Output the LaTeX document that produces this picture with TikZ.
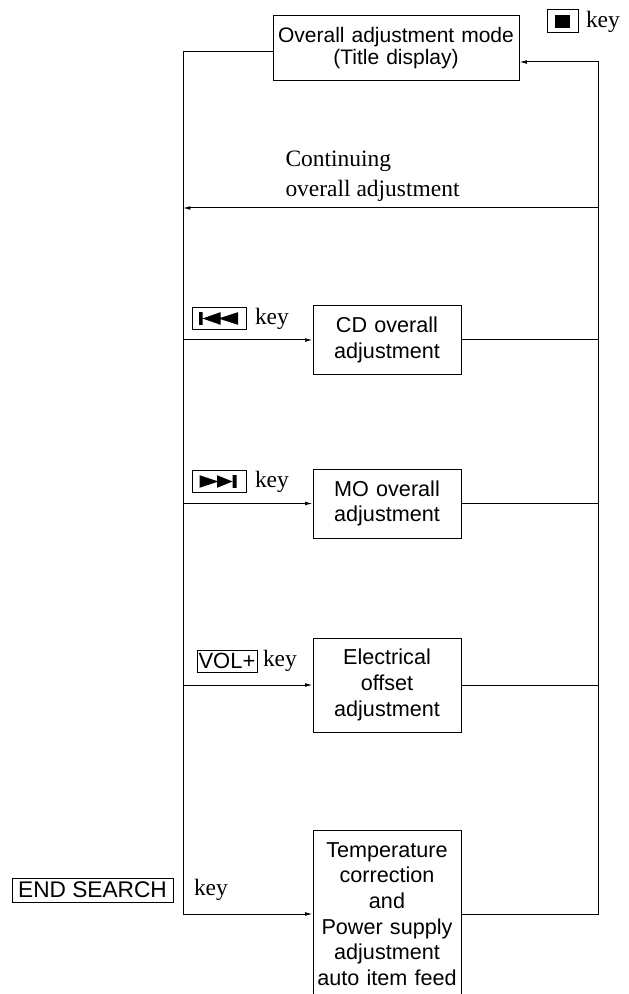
\documentclass[tikz,border=0pt]{standalone}
\usepackage{fontspec}
\setmainfont{Liberation Serif}
\setsansfont{Liberation Sans}
\usetikzlibrary{positioning,arrows.meta}

\begin{document}
\begin{tikzpicture}[x=0.75pt,y=0.75pt,line width=0.75pt,
    >={Latex[length=5.5pt,width=2.8pt]},
    block/.style={draw, align=center, inner xsep=3pt, text width=105pt,
        font=\sffamily\fontsize{16.2}{19.2}\selectfont},
    keybox/.style={draw, inner sep=0pt, font=\sffamily\fontsize{16.5}{18}\selectfont},
    keyword/.style={inner sep=0pt, font=\fontsize{17.6}{22.5}\selectfont}]
    \clip (0,0) rectangle (628,-994);

    % Mode box and stop key
    \node[block, text width=178.5pt, minimum height=48.75pt,
        font=\sffamily\fontsize{15.75}{16.5}\selectfont] (mode) at (396,-48.5)
        {Overall adjustment mode\\(Title display)};
    \node[keybox, minimum width=23.25pt, minimum height=17.25pt] (kstop) at (562.5,-21.5) {};
    \fill[shift={(kstop)}] (-7.5,-6.5) rectangle (7.5,6.5);
    \node[keyword, right=5.25pt of kstop] (wstop) {key};

    % Continuing
    \node[keyword, align=left, anchor=west] (cont) at (285,-176) {Continuing\\overall adjustment};

    % Adjustment boxes
    \node[block, minimum height=51.75pt] (cd) at (387,-340) {CD overall\\adjustment};
    \node[block, minimum height=51.75pt] (mo) at (387,-503.5) {MO overall\\adjustment};
    \node[block, minimum height=70.5pt] (elec) at (387,-685) {Electrical\\offset\\adjustment};
    \node[block, minimum height=126pt] (temp) at (387,-914)
        {Temperature\\correction\\and\\Power supply\\adjustment\\auto item feed};

    % Keys
    \node[keybox, minimum width=40.5pt, minimum height=16.5pt] (kprev) at (219,-318.5) {};
    \fill[shift={(kprev)}] (-20,-6.3) rectangle (-16.5,6.3)
        (-16.5,0) -- (1.5,6.3) -- (1.5,-6.3) -- cycle
        (-0.5,0) -- (19,6.3) -- (19,-6.3) -- cycle;
    \node[keyword, right=6pt of kprev] (wprev) {key};

    \node[keybox, minimum width=40.5pt, minimum height=16.5pt] (knext) at (219,-481.5) {};
    \fill[shift={(knext)}] (-19.5,6.3) -- (-0.5,0) -- (-19.5,-6.3) -- cycle
        (-2,6.3) -- (13.5,0) -- (-2,-6.3) -- cycle
        (13.5,-6.3) rectangle (17.5,6.3);
    \node[keyword, right=6pt of knext] (wnext) {key};

    \node[keybox, minimum width=45pt, minimum height=16.5pt] (kvol) at (227,-661) {VOL+};
    \node[keyword, right=3.75pt of kvol] (wvol) {key};

    \node[keybox, minimum width=120.75pt, minimum height=18pt,
        font=\sffamily\fontsize{17}{18}\selectfont] (kend) at (92.5,-890) {END SEARCH};
    \node[keyword, right=15pt of kend] (wend) {key};

    % Buses
    \coordinate (lt) at (183,-52);
    \coordinate (rt) at (598,-62);
    \coordinate (cr) at (598,-208);
    \draw[->] (mode.west |- lt) -| (temp.west -| lt) -- (temp.west);
    \draw[->] (temp.east) -| (rt) -- (mode.east |- rt);
    \draw[->] (cr) -- (cr -| lt);
    \foreach \n in {cd,mo,elec} {
        \draw[->] (\n.west -| lt) -- (\n.west);
        \draw (\n.east) -- (\n.east -| rt);
    }
\end{tikzpicture}
\end{document}
